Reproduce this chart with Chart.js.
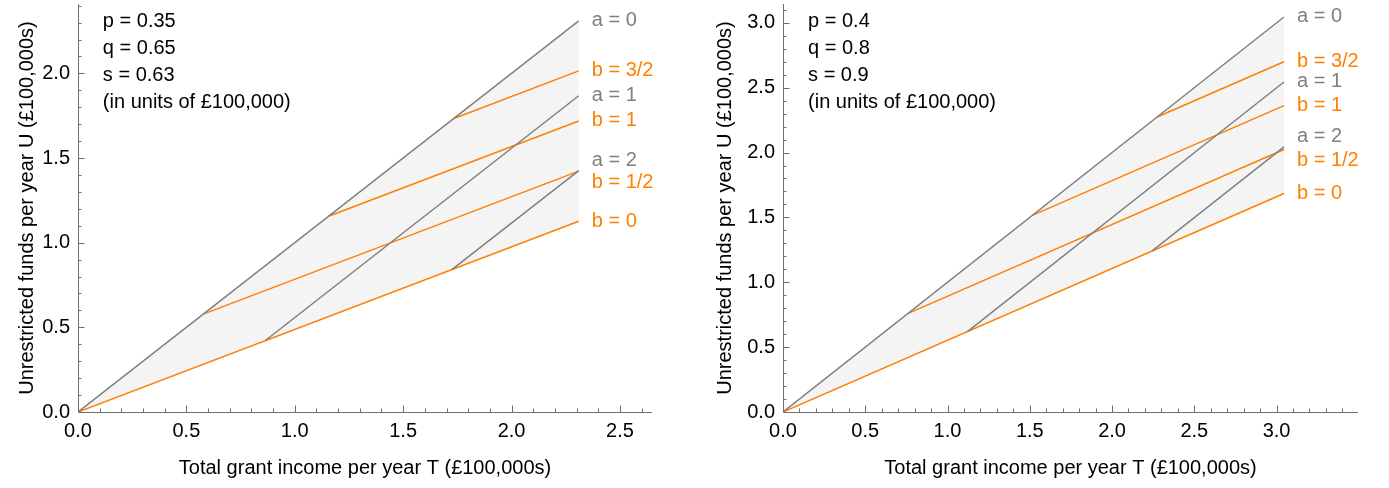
<!DOCTYPE html>
<html>
<head>
<meta charset="utf-8">
<script src="https://cdn.jsdelivr.net/npm/chart.js@4.4.1/dist/chart.umd.min.js"></script>
<style>
html, body { margin: 0; padding: 0; background: #fff; }
body { width: 1389px; height: 488px; position: relative; overflow: hidden; }
canvas { position: absolute; top: 0; }
#left { left: 0; }
#right { left: 694px; }
</style>
</head>
<body>
<canvas id="left" width="694" height="488"></canvas>
<canvas id="right" width="695" height="488"></canvas>
<script>
// line names, same order for both panels
var lineNames = ['a = 0', 'a = 1', 'a = 2', 'b = 0', 'b = 1/2', 'b = 1', 'b = 3/2'];

// left panel (p = 0.35, q = 0.65, s = 0.63)
var leftParams = ['p = 0.35', 'q = 0.65', 's = 0.63', '(in units of \u00a3100,000)'];
var leftStartT = [0, 0.863, 1.726, 0, 0.578, 1.156, 1.734];
var leftStartU = [0, 0.421, 0.842, 0, 0.578, 1.156, 1.734];
var leftEndT = 2.31;
var leftEndU = [2.31, 1.868, 1.426, 1.127, 1.423, 1.719, 2.015];
var leftXTicks = [0, 0.5, 1, 1.5, 2, 2.5];
var leftYTicks = [0, 0.5, 1, 1.5, 2];
var leftXMax = 2.648;
var leftYMax = 2.41;

// right panel (p = 0.4, q = 0.8, s = 0.9)
var rightParams = ['p = 0.4', 'q = 0.8', 's = 0.9', '(in units of \u00a3100,000)'];
var rightStartT = [0, 1.121, 2.242, 0, 0.758, 1.516, 2.274];
var rightStartU = [0, 0.620, 1.240, 0, 0.758, 1.516, 2.274];
var rightEndT = 3.045;
var rightEndU = [3.045, 2.544, 2.043, 1.684, 2.023, 2.362, 2.700];
var rightXTicks = [0, 0.5, 1, 1.5, 2, 2.5, 3];
var rightYTicks = [0, 0.5, 1, 1.5, 2, 2.5, 3];
var rightXMax = 3.495;
var rightYMax = 3.145;

var xTitle = 'Total grant income per year T (\u00a3100,000s)';
var yTitle = 'Unrestricted funds per year U (\u00a3100,000s)';

var FAMILY = '"Liberation Sans", Arial, sans-serif';
var GRAY = '#808080';
var ORANGE = '#ff8000';
var AXIS = '#6e6e6e';
var labelNudge = { 'a = 2': -10, 'b = 1/2': 11 };

Chart.defaults.font.family = FAMILY;
Chart.defaults.font.size = 20;
Chart.defaults.color = '#000';

function noPad(s) {
    s.paddingTop = 0;
    s.paddingBottom = 0;
    s.paddingLeft = 0;
    s.paddingRight = 0;
}

function buildPanel(id, o) {
    var datasets = [];
    for (var i = 0; i < lineNames.length; i++) {
        var isA = lineNames[i].charAt(0) === 'a';
        datasets.push({
            label: lineNames[i],
            data: [{ x: o.startT[i], y: o.startU[i] }, { x: o.endT, y: o.endU[i] }],
            borderColor: isA ? GRAY : ORANGE,
            backgroundColor: '#f4f4f4',
            borderWidth: 1.5,
            pointRadius: 0,
            tension: 0,
            fill: i === 0 ? 3 : false
        });
    }

    var decor = {
        id: 'decor_' + id,
        afterDraw: function (chart) {
            var ctx = chart.ctx, xs = chart.scales.x, ys = chart.scales.y, area = chart.chartArea;
            var k, px, len;
            ctx.save();
            ctx.strokeStyle = AXIS;
            ctx.lineWidth = 1;
            ctx.beginPath();
            ctx.moveTo(area.left + 0.5, area.top);
            ctx.lineTo(area.left + 0.5, area.bottom + 0.5);
            ctx.lineTo(area.right, area.bottom + 0.5);
            // ticks point into the plot, minor every 0.1
            for (k = 1; k / 10 <= o.xMax + 1e-9; k++) {
                len = k % 5 === 0 ? 6.5 : 3.5;
                px = Math.round(xs.getPixelForValue(k / 10)) + 0.5;
                ctx.moveTo(px, area.bottom);
                ctx.lineTo(px, area.bottom - len);
            }
            for (k = 1; k / 10 <= o.yMax + 1e-9; k++) {
                len = k % 5 === 0 ? 6.5 : 3.5;
                px = Math.round(ys.getPixelForValue(k / 10)) + 0.5;
                ctx.moveTo(area.left, px);
                ctx.lineTo(area.left + len, px);
            }
            ctx.stroke();

            // labels at the line ends
            ctx.font = '20px ' + FAMILY;
            ctx.textAlign = 'left';
            ctx.textBaseline = 'middle';
            chart.data.datasets.forEach(function (ds) {
                var last = ds.data[ds.data.length - 1];
                ctx.fillStyle = ds.borderColor;
                ctx.fillText(ds.label, xs.getPixelForValue(last.x) + 13,
                    ys.getPixelForValue(last.y) + (labelNudge[ds.label] || 0));
            });

            // parameter block
            ctx.fillStyle = '#000';
            var w = 0;
            o.params.forEach(function (t) { w = Math.max(w, ctx.measureText(t).width); });
            var bx = area.left + 0.207 * (area.right - area.left) - w / 2;
            o.params.forEach(function (t, j) {
                ctx.fillText(t, bx, area.top + 17 + j * 27.3);
            });

            // axis titles
            ctx.textAlign = 'center';
            ctx.textBaseline = 'alphabetic';
            ctx.fillText(xTitle, (area.left + area.right) / 2, 474);
            ctx.translate(area.left - o.yTitleGap, (area.top + area.bottom) / 2);
            ctx.rotate(-Math.PI / 2);
            ctx.fillText(yTitle, 0, 0);
            ctx.restore();
        }
    };

    return new Chart(document.getElementById(id), {
        type: 'line',
        data: { datasets: datasets },
        options: {
            responsive: false,
            animation: false,
            devicePixelRatio: 1,
            layout: { padding: { left: 0, top: 4, right: o.padRight, bottom: 0 } },
            plugins: {
                legend: { display: false },
                tooltip: { enabled: false },
                filler: { drawTime: 'beforeDatasetsDraw' }
            },
            scales: {
                x: {
                    type: 'linear',
                    min: 0,
                    max: o.xMax,
                    grid: { display: false, drawTicks: false },
                    border: { display: false },
                    afterBuildTicks: function (s) {
                        s.ticks = o.xTicks.map(function (v) { return { value: v }; });
                    },
                    afterFit: function (s) { s.height = 76; noPad(s); },
                    ticks: {
                        autoSkip: false,
                        maxRotation: 0,
                        padding: 7,
                        callback: function (v) { return Number(v).toFixed(1); }
                    }
                },
                y: {
                    type: 'linear',
                    min: 0,
                    max: o.yMax,
                    grid: { display: false, drawTicks: false },
                    border: { display: false },
                    afterBuildTicks: function (s) {
                        s.ticks = o.yTicks.map(function (v) { return { value: v }; });
                    },
                    afterFit: function (s) { s.width = o.yAxisWidth; noPad(s); },
                    ticks: {
                        autoSkip: false,
                        padding: 8,
                        callback: function (v) { return Number(v).toFixed(1); }
                    }
                }
            }
        },
        plugins: [decor]
    });
}

buildPanel('left', {
    startT: leftStartT, startU: leftStartU, endT: leftEndT, endU: leftEndU,
    xTicks: leftXTicks, yTicks: leftYTicks, xMax: leftXMax, yMax: leftYMax,
    params: leftParams, yAxisWidth: 78, padRight: 42, yTitleGap: 45
});
buildPanel('right', {
    startT: rightStartT, startU: rightStartU, endT: rightEndT, endU: rightEndU,
    xTicks: rightXTicks, yTicks: rightYTicks, xMax: rightXMax, yMax: rightYMax,
    params: rightParams, yAxisWidth: 89, padRight: 31, yTitleGap: 52
});
</script>
</body>
</html>
